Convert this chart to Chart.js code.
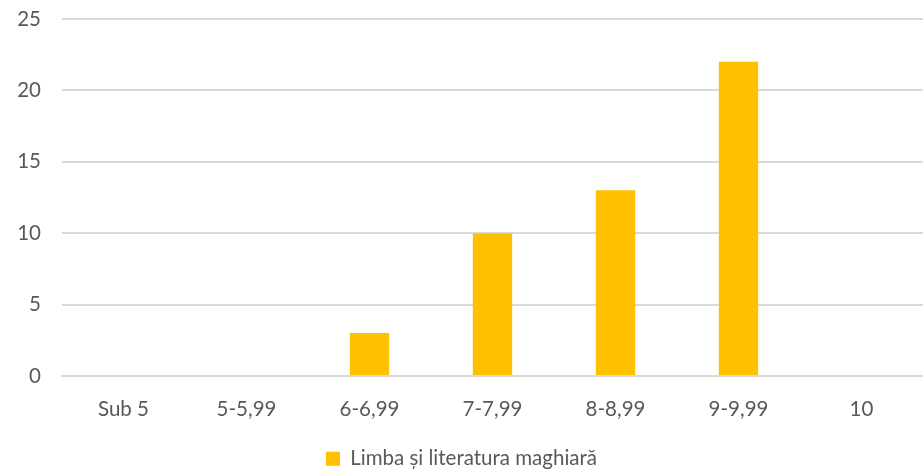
<!DOCTYPE html>
<html>
<head>
<meta charset="utf-8">
<script src="https://cdn.jsdelivr.net/npm/chart.js@4/dist/chart.umd.min.js"></script>
<style>
  html, body { margin: 0; padding: 0; background: #fff; overflow: hidden; }
  #wrap { width: 923px; height: 479px; }
</style>
</head>
<body>
<div id="wrap"><canvas id="myChart"></canvas></div>
<script>
const categories = ['Sub 5', '5-5,99', '6-6,99', '7-7,99', '8-8,99', '9-9,99', '10'];
const values = [0, 0, 3, 10, 13, 22, 0];
const yTicks = [0, 5, 10, 15, 20, 25];
const seriesLabel = 'Limba și literatura maghiară';

const font = { family: 'Lato', size: 20.5 };
const textColor = '#595959';

const ctx = document.getElementById('myChart');
// eslint-disable-next-line no-new
new Chart(ctx, {
  type: 'bar',
  data: {
    labels: categories,
    datasets: [
      {
        label: seriesLabel,
        data: values,
        backgroundColor: '#FFC000',
        categoryPercentage: 1,
        barPercentage: 0.32,
      },
    ],
  },
  options: {
    responsive: true,
    maintainAspectRatio: false,
    animation: false,
    layout: { padding: 0 },
    plugins: {
      legend: {
        position: 'bottom',
        labels: {
          font,
          color: textColor,
          boxWidth: 14,
          boxHeight: 14,
          padding: 4,
        },
      },
      tooltip: { enabled: false },
    },
    scales: {
      x: {
        grid: { display: false },
        border: { color: '#d9d9d9', width: 2 },
        ticks: { font, color: textColor, padding: 13 },
        afterFit: (axis) => { axis.height += 10; },
      },
      y: {
        min: 0,
        max: 25,
        afterFit: (axis) => { axis.width = 62; axis.paddingTop = 19; },
        afterBuildTicks: (axis) => { axis.ticks = yTicks.map((v) => ({ value: v })); },
        grid: { color: '#d9d9d9', lineWidth: 2, drawTicks: false },
        border: { display: false },
        ticks: { font, color: textColor, padding: 21 },
      },
    },
  },
});
</script>
</body>
</html>
